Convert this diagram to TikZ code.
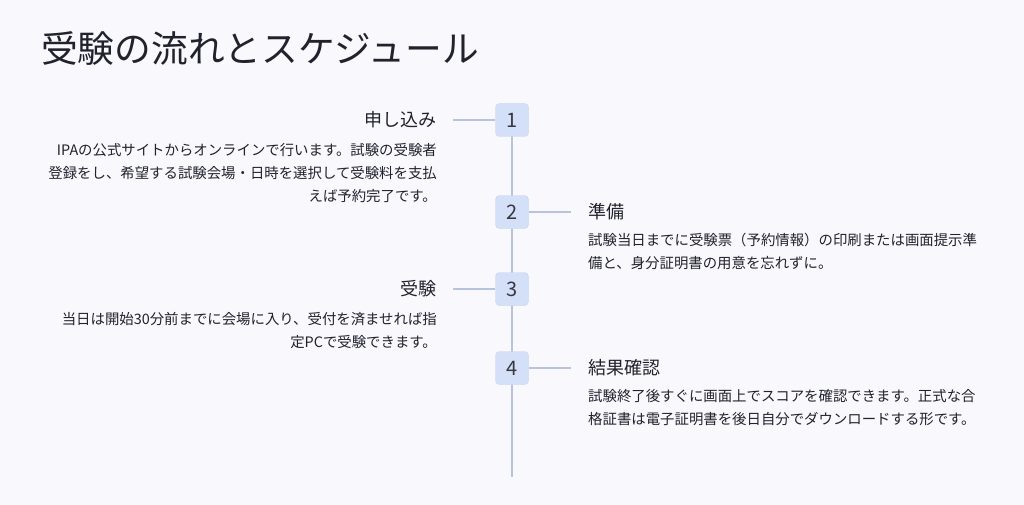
\documentclass[tikz,border=0pt]{standalone}
\usepackage{fontspec}
\setmainfont{Noto Sans CJK JP}
\definecolor{bg}{HTML}{F8F8FD}
\definecolor{boxf}{HTML}{D3E0F8}
\definecolor{boxd}{HTML}{C4D2EE}
\definecolor{ln}{HTML}{B8C4DE}
\definecolor{tx}{HTML}{22222C}
\begin{document}
\begin{tikzpicture}[x=1pt,y=-1pt,
  numbox/.style={draw=boxd,fill=boxf,rounded corners=4pt,minimum size=33pt,inner sep=0pt,font=\fontsize{20}{20}\selectfont,text=tx!90},
  conn/.style={draw=ln,line width=1.5pt},
  head/.style={font=\fontsize{18}{20}\selectfont,text=tx,inner sep=0pt},
  bodyl/.style={font=\fontsize{14.4}{23}\selectfont,text=tx,inner sep=0pt,align=right,anchor=north east},
  bodyr/.style={font=\fontsize{14.4}{23}\selectfont,text=tx,inner sep=0pt,align=left,anchor=north west}]
\fill[bg] (0,0) rectangle (1024,505);
\useasboundingbox (0,0) rectangle (1024,505);
\node[anchor=west,inner sep=0pt,font=\fontsize{36.7}{37}\selectfont,text=tx] (title) at (41,48) {受験の流れとスケジュール};
\coordinate (top) at (512,120);
\coordinate (bot) at (512,477);
\draw[conn] (top) -- (bot);
\node[numbox] (n1) at (512,120) {1};
\node[numbox] (n2) at (512,212) {2};
\node[numbox] (n3) at (512,289) {3};
\node[numbox] (n4) at (512,368) {4};
\node[head,anchor=east] (h1) at (437,120) {申し込み};
\node[head,anchor=west] (h2) at (588,212) {準備};
\node[head,anchor=east] (h3) at (437,289) {受験};
\node[head,anchor=west] (h4) at (588,368) {結果確認};
\coordinate (c1) at (453,120); \coordinate (c2) at (571,212);
\coordinate (c3) at (453,289); \coordinate (c4) at (571,368);
\draw[conn] (c1) -- (n1.west); \draw[conn] (n2.east) -- (c2);
\draw[conn] (c3) -- (n3.west); \draw[conn] (n4.east) -- (c4);
\node[bodyl] (b1) at (437,143) {IPAの公式サイトからオンラインで行います。試験の受験者\\登録をし、希望する試験会場・日時を選択して受験料を支払\\えば予約完了です。};
\node[bodyr] (b2) at (588,233) {試験当日までに受験票（予約情報）の印刷または画面提示準\\備と、身分証明書の用意を忘れずに。};
\node[bodyl] (b3) at (437,312) {当日は開始30分前までに会場に入り、受付を済ませれば指\\定PCで受験できます。};
\node[bodyr] (b4) at (588,389) {試験終了後すぐに画面上でスコアを確認できます。正式な合\\格証書は電子証明書を後日自分でダウンロードする形です。};
\end{tikzpicture}
\end{document}
